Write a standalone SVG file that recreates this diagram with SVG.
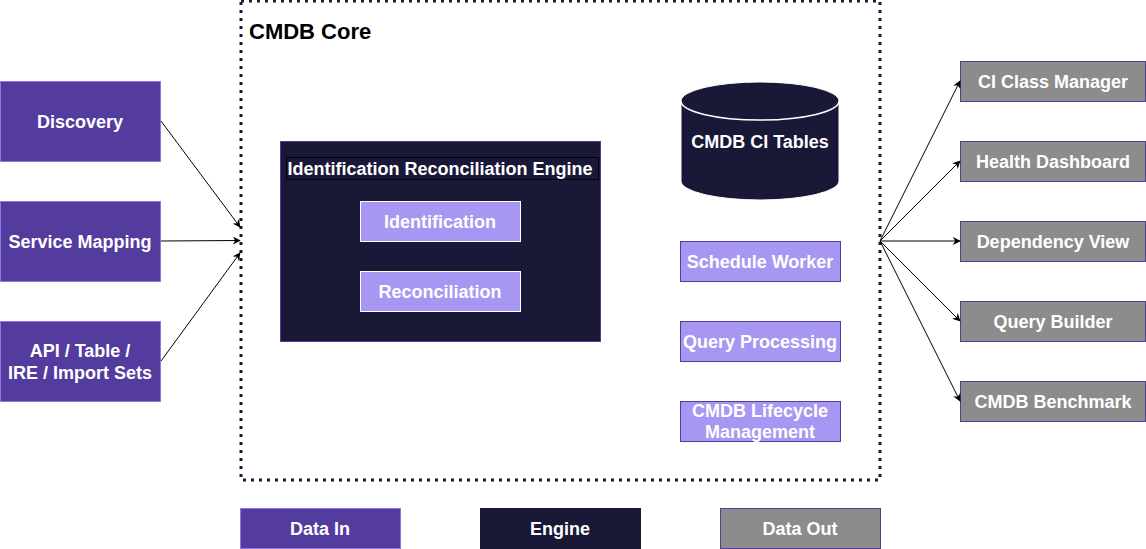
<svg xmlns="http://www.w3.org/2000/svg" width="1146" height="549" viewBox="0 0 1146 549">
<style>
text{font-family:"Liberation Sans",Arial,sans-serif;font-weight:bold;font-size:18px;fill:#ffffff;text-anchor:middle;dominant-baseline:central}
.in{fill:#533C9E;stroke:#8F76E0;stroke-width:1}
.sub{fill:#A797F2;stroke:#553C9A;stroke-width:1}
.subw{fill:#A797F2;stroke:#ffffff;stroke-width:1}
.out{fill:#8C8C8C;stroke:#553C9A;stroke-width:1}
.eng{fill:#191937;stroke:#553C9A;stroke-width:1}
.conn{stroke:#000;stroke-width:1;fill:none;marker-end:url(#arr)}
</style>
<defs>
<marker id="arr" viewBox="0 0 10 10" refX="9" refY="5" markerWidth="8" markerHeight="8" markerUnits="userSpaceOnUse" orient="auto">
<path d="M0,0 L10,5 L0,10 L3,5 Z" fill="#000"/>
</marker>
</defs>
<g id="core">
<rect x="241" y="1" width="639" height="479" fill="none" stroke="#191937" stroke-width="3" stroke-dasharray="3 5"/>
<text x="249" y="31" style="fill:#000;font-size:22px;text-anchor:start">CMDB Core</text>
</g>
<g id="discovery"><rect class="in" x="0.5" y="81.5" width="160" height="80"/><text x="80" y="122">Discovery</text></g>
<g id="service-mapping"><rect class="in" x="0.5" y="201.5" width="160" height="80"/><text x="80" y="242">Service Mapping</text></g>
<g id="api"><rect class="in" x="0.5" y="321.5" width="160" height="80"/><text x="80" y="351">API / Table /</text><text x="80" y="373">IRE / Import Sets</text></g>
<g id="ire">
<rect class="eng" x="280.5" y="141.5" width="320" height="200"/>
<rect x="286.5" y="157.5" width="312" height="22" fill="#191937" stroke="#000"/>
<text x="440" y="169">Identification Reconciliation Engine</text>
</g>
<g id="identification"><rect class="subw" x="360.5" y="201.5" width="160" height="40"/><text x="440" y="222">Identification</text></g>
<g id="reconciliation"><rect class="subw" x="360.5" y="271.5" width="160" height="40"/><text x="440" y="292">Reconciliation</text></g>
<g id="ci-tables">
<path d="M681,101 A79,19 0 0 1 839,101 L839,181 A79,19 0 0 1 681,181 Z" fill="#191937" stroke="#fff"/>
<path d="M681,101 A79,19 0 0 0 839,101" fill="none" stroke="#fff" stroke-width="1.5"/>
<text x="760" y="142">CMDB CI Tables</text>
</g>
<g id="schedule-worker"><rect class="sub" x="680.5" y="241.5" width="160" height="40"/><text x="760" y="262">Schedule Worker</text></g>
<g id="query-processing"><rect class="sub" x="680.5" y="321.5" width="160" height="40"/><text x="760" y="342">Query Processing</text></g>
<g id="lifecycle"><rect class="sub" x="680.5" y="401.5" width="160" height="40"/><text x="760" y="411">CMDB Lifecycle</text><text x="760" y="432">Management</text></g>
<g id="ci-class-manager"><rect class="out" x="960.5" y="61.5" width="185" height="40"/><text x="1053" y="82">CI Class Manager</text></g>
<g id="health-dashboard"><rect class="out" x="960.5" y="141.5" width="185" height="40"/><text x="1053" y="162">Health Dashboard</text></g>
<g id="dependency-view"><rect class="out" x="960.5" y="221.5" width="185" height="40"/><text x="1053" y="242">Dependency View</text></g>
<g id="query-builder"><rect class="out" x="960.5" y="301.5" width="185" height="40"/><text x="1053" y="322">Query Builder</text></g>
<g id="cmdb-benchmark"><rect class="out" x="960.5" y="381.5" width="185" height="40"/><text x="1053" y="402">CMDB Benchmark</text></g>
<g id="legend-in"><rect class="in" x="240.5" y="508.5" width="160" height="40"/><text x="320" y="529">Data In</text></g>
<g id="legend-engine"><rect x="480.5" y="508.5" width="160" height="40" fill="#191937" stroke="#191937"/><text x="560" y="529">Engine</text></g>
<g id="legend-out"><rect class="out" x="720.5" y="508.5" width="160" height="40"/><text x="800" y="529">Data Out</text></g>
<g id="connectors">
<line class="conn" x1="161" y1="121" x2="240" y2="227"/>
<line class="conn" x1="161" y1="241" x2="240" y2="240.5"/>
<line class="conn" x1="161" y1="361" x2="240" y2="253"/>
<line class="conn" x1="880" y1="241" x2="960" y2="81"/>
<line class="conn" x1="880" y1="241" x2="960" y2="161"/>
<line class="conn" x1="880" y1="241" x2="960" y2="241"/>
<line class="conn" x1="880" y1="241" x2="960" y2="321"/>
<line class="conn" x1="880" y1="241" x2="960" y2="401"/>
</g>
</svg>
